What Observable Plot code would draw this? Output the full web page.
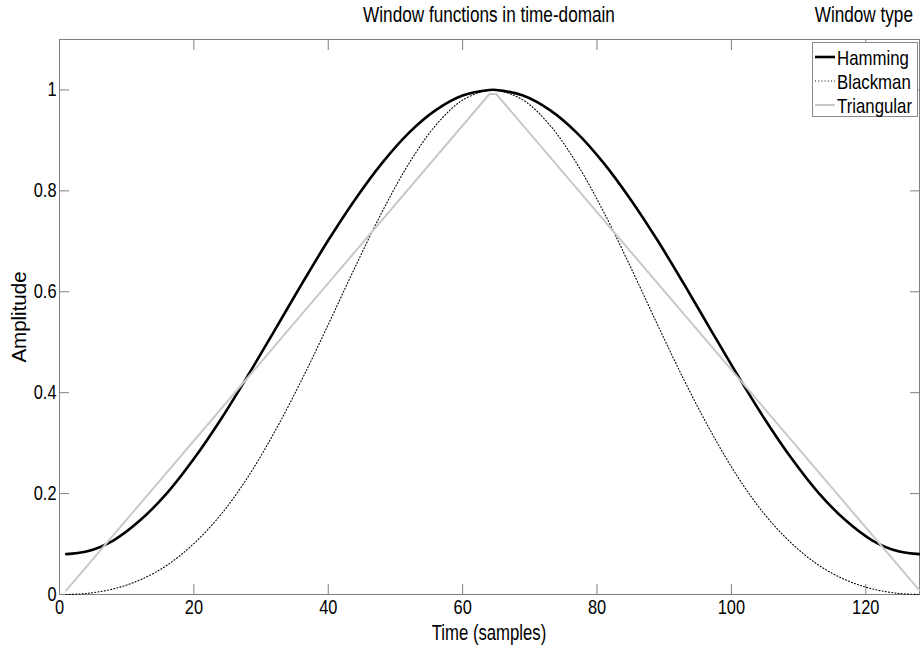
<!DOCTYPE html>
<html>
<head>
<meta charset="utf-8">
<script src="https://cdn.jsdelivr.net/npm/d3@7"></script>
<script src="https://cdn.jsdelivr.net/npm/@observablehq/plot@0.6"></script>
<style>
  html, body { margin: 0; padding: 0; background: #fff; }
  #wrap { position: relative; width: 920px; height: 649px; overflow: hidden;
          font-family: "Liberation Sans", Arial, sans-serif; color: #000; }
  .lbl { position: absolute; white-space: nowrap; line-height: 1; }
  #legend { position: absolute; left: 812px; top: 42px; width: 106px; height: 75px;
            border: 1px solid #888; background: #fff; box-sizing: border-box; }
  .item { position: absolute; left: 2px; height: 20px; display: flex; align-items: center; font-size: 21px; white-space: nowrap; }
  .item svg { flex: none; margin-right: 2px; }
  .item span { display: inline-block; transform: scaleX(0.8); transform-origin: left center; line-height: 1; }
</style>
</head>
<body>
<div id="wrap"></div>
<script>
// Sample positions (samples) and read-off window values
const sampleN = [1,4,8,12,16,20,24,28,32,36,40,44,48,52,56,60,64,65,69,73,77,81,85,89,93,97,101,105,109,113,117,121,125,128];
const hamming = [0.080,0.085,0.107,0.147,0.201,0.269,0.347,0.433,0.523,0.614,0.702,0.783,0.855,0.915,0.960,0.989,1.000,
                 1.000,0.989,0.960,0.915,0.855,0.783,0.702,0.614,0.523,0.433,0.347,0.269,0.201,0.147,0.107,0.085,0.080];
const blackman = [0.000,0.002,0.011,0.029,0.058,0.101,0.158,0.232,0.322,0.424,0.535,0.649,0.758,0.854,0.930,0.980,1.000,
                  1.000,0.980,0.930,0.854,0.758,0.649,0.535,0.424,0.322,0.232,0.158,0.101,0.058,0.029,0.011,0.002,0.000];
const triangN = [1,64,65,128];
const triangular = [0.008,0.992,0.992,0.008];

const xTicks = [0,20,40,60,80,100,120];
const yTicks = [0,0.2,0.4,0.6,0.8,1];
const seriesNames = ["Hamming","Blackman","Triangular"];
const titleText = "Window functions in time-domain";
const xLabel = "Time (samples)";
const yLabel = "Amplitude";
const legendTitle = "Window type";

const hamData = sampleN.map((n,i)=>({n, v: hamming[i]}));
const blkData = sampleN.map((n,i)=>({n, v: blackman[i]}));
const triData = triangN.map((n,i)=>({n, v: triangular[i]}));

const styles = {
  Hamming: {stroke: "#000", strokeWidth: 2.6},
  Blackman: {stroke: "#000", strokeWidth: 1.1, strokeDasharray: "1,2.2"},
  Triangular: {stroke: "#c9c9c9", strokeWidth: 2}
};

const axisColor = "#808080";
const fontFam = '"Liberation Sans", Arial, sans-serif';
const plot = Plot.plot({
  width: 920,
  height: 649,
  marginLeft: 59,
  marginRight: 1,
  marginTop: 39,
  marginBottom: 55,
  style: {fontFamily: fontFam, fontSize: "20px", background: "white", overflow: "visible"},
  x: {domain: [0,128]},
  y: {domain: [0,1.1]},
  marks: [
    Plot.frame({stroke: axisColor}),
    Plot.axisX({anchor: "bottom", ticks: xTicks, tickSize: -10, tickPadding: 15, stroke: axisColor, fill: "black", fontSize: 20, label: null, tickFormat: d => String(d)}),
    Plot.axisX({anchor: "top", ticks: xTicks, tickSize: -10, stroke: axisColor, label: null, tickFormat: () => ""}),
    Plot.axisY({anchor: "left", ticks: yTicks, tickSize: -10, tickPadding: 13, stroke: axisColor, fill: "black", fontSize: 20, label: null, tickFormat: d => String(d)}),
    Plot.axisY({anchor: "right", ticks: yTicks, tickSize: -10, stroke: axisColor, label: null, tickFormat: () => ""}),
    Plot.line(hamData, {x: "n", y: "v", curve: "catmull-rom", ...styles.Hamming}),
    Plot.line(blkData, {x: "n", y: "v", curve: "catmull-rom", ...styles.Blackman}),
    Plot.line(triData, {x: "n", y: "v", ...styles.Triangular})
  ]
});

// condense tick labels horizontally (narrow Helvetica look)
plot.querySelectorAll('g[aria-label$="tick label"] text').forEach(el => {
  const s = 0.82;
  const t = el.getAttribute("transform");
  if (t) {
    el.setAttribute("transform", t + ` scale(${s},1)`);
  } else {
    const x = el.getAttribute("x") || 0, y = el.getAttribute("y") || 0;
    el.removeAttribute("x"); el.removeAttribute("y");
    el.setAttribute("transform", `translate(${x},${y}) scale(${s},1)`);
  }
});

const wrap = document.getElementById("wrap");
plot.style.position = "absolute";
plot.style.left = "0";
plot.style.top = "0";
wrap.appendChild(plot);

function addLabel(text, css) {
  const d = document.createElement("div");
  d.className = "lbl";
  d.textContent = text;
  Object.assign(d.style, css);
  wrap.appendChild(d);
  return d;
}
addLabel(titleText, {left: "489px", top: "4px", fontSize: "22px", transform: "translateX(-50%) scaleX(0.78)"});
addLabel(legendTitle, {right: "7px", top: "4px", fontSize: "22px", transform: "scaleX(0.78)", transformOrigin: "right center"});
addLabel(xLabel, {left: "489px", top: "622px", fontSize: "22px", transform: "translateX(-50%) scaleX(0.76)"});
addLabel(yLabel, {left: "19px", top: "317px", fontSize: "20.5px", transform: "translate(-50%,-50%) rotate(-90deg)"});

const legend = document.createElement("div");
legend.id = "legend";
wrap.appendChild(legend);
seriesNames.forEach((name, i) => {
  const it = document.createElement("div");
  it.className = "item";
  it.style.top = (4 + i * 24) + "px";
  const s = styles[name];
  it.innerHTML = `<svg width="20" height="20"><line x1="0" x2="20" y1="10" y2="10" stroke="${s.stroke}" stroke-width="${s.strokeWidth}" ${s.strokeDasharray ? `stroke-dasharray="${s.strokeDasharray}"` : ""}/></svg><span>${name}</span>`;
  legend.appendChild(it);
});
</script>
</body>
</html>
